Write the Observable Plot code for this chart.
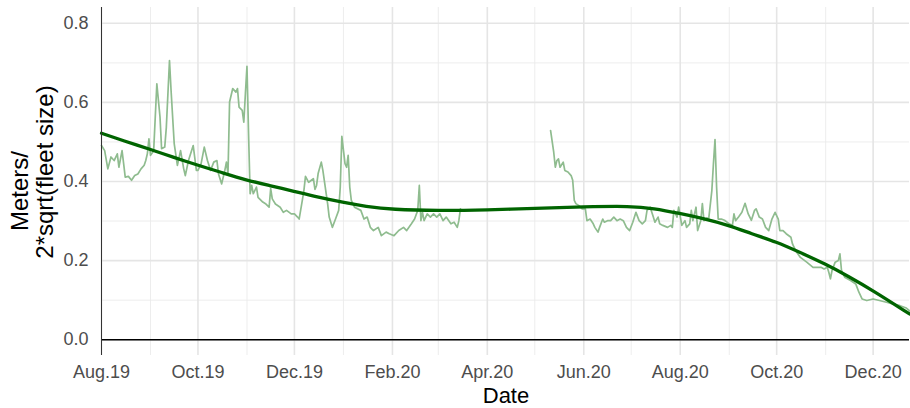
<!DOCTYPE html>
<html><head><meta charset="utf-8">
<script src="https://cdn.jsdelivr.net/npm/d3@7"></script>
<script src="https://cdn.jsdelivr.net/npm/@observablehq/plot@0.6"></script>
<style>body{margin:0;background:#fff;} svg{display:block}</style>
</head><body><div id="chart"></div>
<script>
// Daily ratio, first stretch (Aug 2019 - mid Mar 2020)
const rawDates1 = ["2019-08-01","2019-08-03","2019-08-05","2019-08-07","2019-08-09","2019-08-11","2019-08-12","2019-08-14","2019-08-15","2019-08-16","2019-08-18","2019-08-20","2019-08-22","2019-08-24","2019-08-26","2019-08-28","2019-08-29","2019-08-30","2019-08-31","2019-09-01","2019-09-03","2019-09-05","2019-09-07","2019-09-08","2019-09-10","2019-09-11","2019-09-13","2019-09-14","2019-09-16","2019-09-18","2019-09-20","2019-09-22","2019-09-23","2019-09-25","2019-09-28","2019-09-30","2019-10-01","2019-10-03","2019-10-05","2019-10-07","2019-10-09","2019-10-11","2019-10-13","2019-10-14","2019-10-16","2019-10-18","2019-10-19","2019-10-20","2019-10-21","2019-10-23","2019-10-25","2019-10-26","2019-10-27","2019-10-29","2019-10-30","2019-10-31","2019-11-01","2019-11-02","2019-11-03","2019-11-04","2019-11-05","2019-11-07","2019-11-08","2019-11-11","2019-11-13","2019-11-15","2019-11-16","2019-11-17","2019-11-19","2019-11-22","2019-11-24","2019-11-26","2019-11-29","2019-12-01","2019-12-03","2019-12-04","2019-12-06","2019-12-07","2019-12-08","2019-12-10","2019-12-13","2019-12-14","2019-12-15","2019-12-16","2019-12-18","2019-12-19","2019-12-22","2019-12-23","2019-12-25","2019-12-27","2019-12-29","2019-12-30","2019-12-31","2020-01-02","2020-01-03","2020-01-04","2020-01-05","2020-01-06","2020-01-08","2020-01-12","2020-01-14","2020-01-16","2020-01-18","2020-01-20","2020-01-23","2020-01-25","2020-01-28","2020-01-30","2020-02-02","2020-02-05","2020-02-08","2020-02-10","2020-02-13","2020-02-15","2020-02-17","2020-02-18","2020-02-19","2020-02-20","2020-02-21","2020-02-23","2020-02-25","2020-02-27","2020-02-29","2020-03-02","2020-03-04","2020-03-06","2020-03-09","2020-03-11","2020-03-13","2020-03-14","2020-03-15"];
const rawValues1 = [0.491,0.478,0.432,0.462,0.453,0.470,0.436,0.478,0.445,0.411,0.413,0.403,0.415,0.419,0.432,0.441,0.453,0.470,0.508,0.466,0.478,0.647,0.563,0.483,0.487,0.537,0.706,0.630,0.495,0.441,0.478,0.432,0.415,0.453,0.491,0.428,0.428,0.445,0.487,0.453,0.428,0.449,0.453,0.419,0.394,0.428,0.449,0.419,0.601,0.635,0.626,0.635,0.588,0.580,0.550,0.622,0.691,0.521,0.369,0.390,0.369,0.386,0.360,0.348,0.343,0.335,0.382,0.356,0.343,0.335,0.322,0.327,0.318,0.318,0.310,0.305,0.352,0.377,0.413,0.398,0.407,0.380,0.390,0.420,0.449,0.428,0.344,0.310,0.284,0.305,0.327,0.386,0.514,0.445,0.436,0.466,0.386,0.352,0.335,0.327,0.305,0.310,0.284,0.276,0.284,0.263,0.272,0.268,0.263,0.276,0.284,0.276,0.293,0.305,0.327,0.390,0.301,0.322,0.301,0.318,0.310,0.318,0.310,0.318,0.301,0.310,0.293,0.297,0.284,0.301,0.331];
// Daily ratio, second stretch (mid May 2020 - Dec 2020)
const rawDates2 = ["2020-05-11","2020-05-13","2020-05-14","2020-05-15","2020-05-16","2020-05-17","2020-05-19","2020-05-20","2020-05-22","2020-05-24","2020-05-25","2020-05-26","2020-05-27","2020-05-29","2020-05-31","2020-06-02","2020-06-03","2020-06-05","2020-06-07","2020-06-08","2020-06-10","2020-06-11","2020-06-13","2020-06-14","2020-06-16","2020-06-18","2020-06-20","2020-06-22","2020-06-24","2020-06-26","2020-06-28","2020-06-30","2020-07-02","2020-07-04","2020-07-06","2020-07-08","2020-07-10","2020-07-11","2020-07-13","2020-07-15","2020-07-16","2020-07-18","2020-07-19","2020-07-21","2020-07-24","2020-07-26","2020-07-27","2020-07-28","2020-07-30","2020-07-31","2020-08-02","2020-08-04","2020-08-05","2020-08-07","2020-08-08","2020-08-09","2020-08-11","2020-08-12","2020-08-14","2020-08-15","2020-08-16","2020-08-18","2020-08-19","2020-08-21","2020-08-22","2020-08-23","2020-08-24","2020-08-25","2020-08-27","2020-08-29","2020-09-01","2020-09-03","2020-09-04","2020-09-05","2020-09-07","2020-09-09","2020-09-11","2020-09-13","2020-09-15","2020-09-17","2020-09-18","2020-09-20","2020-09-22","2020-09-24","2020-09-26","2020-09-28","2020-09-30","2020-10-02","2020-10-03","2020-10-05","2020-10-07","2020-10-10","2020-10-11","2020-10-13","2020-10-16","2020-10-20","2020-10-24","2020-10-29","2020-10-31","2020-11-02","2020-11-03","2020-11-04","2020-11-05","2020-11-07","2020-11-09","2020-11-10","2020-11-11","2020-11-13","2020-11-17","2020-11-20","2020-11-22","2020-11-24","2020-11-27","2020-12-01","2020-12-05","2020-12-10","2020-12-14","2020-12-18","2020-12-22","2020-12-24"];
const rawValues2 = [0.529,0.474,0.436,0.453,0.457,0.436,0.449,0.428,0.424,0.415,0.403,0.352,0.344,0.339,0.331,0.331,0.301,0.305,0.293,0.284,0.272,0.284,0.305,0.297,0.301,0.301,0.310,0.301,0.305,0.301,0.284,0.276,0.297,0.322,0.301,0.293,0.301,0.327,0.335,0.310,0.297,0.310,0.293,0.289,0.284,0.289,0.284,0.327,0.310,0.335,0.289,0.301,0.284,0.293,0.327,0.301,0.335,0.276,0.301,0.344,0.301,0.308,0.305,0.377,0.445,0.506,0.386,0.305,0.305,0.302,0.293,0.289,0.318,0.301,0.311,0.322,0.345,0.318,0.302,0.327,0.331,0.310,0.305,0.284,0.276,0.305,0.322,0.305,0.276,0.276,0.268,0.259,0.242,0.225,0.208,0.196,0.183,0.183,0.179,0.183,0.170,0.154,0.175,0.196,0.200,0.217,0.175,0.158,0.149,0.141,0.120,0.103,0.099,0.103,0.099,0.094,0.090,0.086,0.080,0.073];
// Smoothed trend
const smoothDates = ["2019-08-01","2019-08-15","2019-09-01","2019-09-15","2019-10-01","2019-10-15","2019-11-01","2019-11-15","2019-12-01","2019-12-15","2020-01-01","2020-01-15","2020-02-01","2020-03-01","2020-04-01","2020-05-01","2020-06-01","2020-07-01","2020-07-15","2020-08-01","2020-08-15","2020-09-01","2020-09-15","2020-10-01","2020-10-15","2020-11-01","2020-11-15","2020-12-01","2020-12-24"];
const smoothValues = [0.522,0.503,0.481,0.462,0.441,0.424,0.403,0.390,0.375,0.361,0.347,0.337,0.329,0.326,0.328,0.332,0.336,0.338,0.332,0.319,0.307,0.289,0.268,0.247,0.222,0.191,0.161,0.124,0.065];
// Axes
const xMajorDates = ["2019-08-01","2019-10-01","2019-12-01","2020-02-01","2020-04-01","2020-06-01","2020-08-01","2020-10-01","2020-12-01"];
const xTickLabels = ["Aug.19","Oct.19","Dec.19","Feb.20","Apr.20","Jun.20","Aug.20","Oct.20","Dec.20"];
const xMinorDates = ["2019-09-01","2019-11-01","2020-01-01","2020-03-01","2020-05-01","2020-07-01","2020-09-01","2020-11-01"];
const yMajor = [0, 0.2, 0.4, 0.6, 0.8];
const yMinor = [0.1, 0.3, 0.5, 0.7];
const xTitle = "Date";
const yTitleLines = ["Meters/", "2*sqrt(fleet size)"];

const parse = d3.utcParse("%Y-%m-%d");
const raw = [
  ...rawDates1.map((d, i) => ({date: parse(d), value: rawValues1[i], seg: 1})),
  ...rawDates2.map((d, i) => ({date: parse(d), value: rawValues2[i], seg: 2}))
];
const smooth = smoothDates.map((d, i) => ({date: parse(d), value: smoothValues[i]}));
const majorX = xMajorDates.map(parse);
const majorXTimes = majorX.map(d => +d);
const minorX = xMinorDates.map(parse);
const xStart = parse(rawDates1[0]);
const xEnd = parse(rawDates2[rawDates2.length - 1]);

const chart = Plot.plot({
  width: 910, height: 408,
  marginLeft: 101, marginRight: 1, marginTop: 7, marginBottom: 53,
  style: {fontFamily: "'Liberation Sans', Arial, sans-serif", fontSize: "18px", color: "#4d4d4d", background: "#fff"},
  x: {type: "utc", domain: [xStart, xEnd]},
  y: {domain: [-0.04, 0.84]},
  marks: [
    Plot.ruleX(minorX, {stroke: "#ebebeb", strokeWidth: 0.9}),
    Plot.ruleY(yMinor, {stroke: "#ebebeb", strokeWidth: 0.9}),
    Plot.ruleX(majorX, {stroke: "#e5e5e5", strokeWidth: 1.6}),
    Plot.ruleY(yMajor, {stroke: "#e5e5e5", strokeWidth: 1.6}),
    Plot.line(raw, {x: "date", y: "value", z: "seg", stroke: "#8fbc8f", strokeWidth: 1.7}),
    Plot.ruleY([0], {stroke: "#000", strokeWidth: 1.5}),
    Plot.line(smooth, {x: "date", y: "value", stroke: "#006400", strokeWidth: 3.3, curve: "basis"}),
    Plot.ruleX([xStart], {stroke: "#333", strokeWidth: 1}),
    Plot.axisX({ticks: majorX, tickFormat: d => xTickLabels[majorXTimes.indexOf(+d)], tickSize: 0, tickPadding: 10, label: null}),
    Plot.axisY({ticks: yMajor, tickFormat: d3.format(".1f"), tickSize: 0, tickPadding: 13, label: null})
  ]
});
document.getElementById("chart").appendChild(chart);

const svg = d3.select(chart);
svg.append("text").attr("x", 506).attr("y", 403).attr("text-anchor", "middle")
  .attr("fill", "#000").style("font-size", "22px").text(xTitle);
svg.append("text").attr("transform", "translate(28,191) rotate(-90)").attr("text-anchor", "middle")
  .attr("fill", "#000").style("font-size", "24px").text(yTitleLines[0]);
svg.append("text").attr("transform", "translate(53,172) rotate(-90)").attr("text-anchor", "middle")
  .attr("fill", "#000").style("font-size", "24px").text(yTitleLines[1]);
</script>
</body></html>
